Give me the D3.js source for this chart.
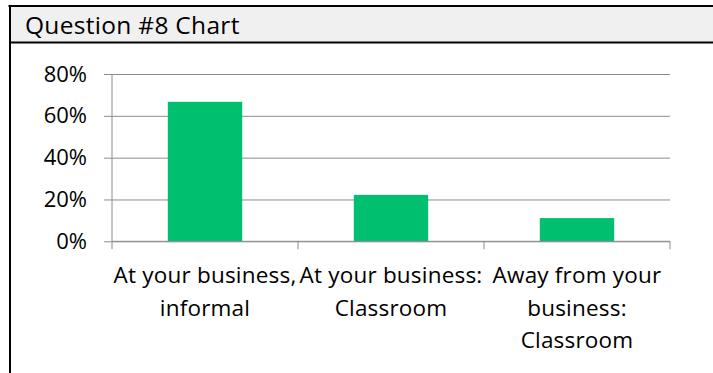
<!DOCTYPE html>
<html>
<head>
<meta charset="utf-8">
<script src="https://cdn.jsdelivr.net/npm/d3@7"></script>
<style>
  html, body { margin: 0; padding: 0; background: #fff; }
  svg { display: block; }
  text { font-family: "Open Sans", Lato, sans-serif; fill: #000; }
</style>
</head>
<body>
<svg id="chart" width="713" height="373"></svg>
<script>
// Survey results for question #8: where training takes place
const title = "Question #8 Chart";
const categories = ["informal", "classroom", "away"];
const categoryLabels = [
  ["At your business,", "informal"],
  ["At your business:", "Classroom"],
  ["Away from your", "business:", "Classroom"]
];
const shares = [0.667, 0.222, 0.111];
const yTicks = [0, 0.2, 0.4, 0.6, 0.8];

const svg = d3.select("#chart");
const W = 713, H = 373;

// Frame: header band with a title, heavy top/left/header rules
svg.append("rect").attr("x", 10).attr("y", 6).attr("width", W - 10).attr("height", 36)
  .attr("fill", "#f0f0f0");
svg.append("line").attr("x1", 8.5).attr("x2", W).attr("y1", 6).attr("y2", 6)
  .attr("stroke", "#000").attr("stroke-width", 2);
svg.append("line").attr("x1", 10).attr("x2", W).attr("y1", 42.5).attr("y2", 42.5)
  .attr("stroke", "#000").attr("stroke-width", 2);
svg.append("line").attr("x1", 10).attr("x2", 10).attr("y1", 5).attr("y2", H)
  .attr("stroke", "#000").attr("stroke-width", 2);
svg.append("text").attr("x", 25).attr("y", 34)
  .attr("font-size", 24.5).attr("letter-spacing", 0.3).text(title);

// Plot area
const x = d3.scaleBand().domain(categories).range([112, 670])
  .paddingInner(0.6).paddingOuter(0.3);
const y = d3.scaleLinear().domain([0, 0.8]).range([241.3, 74]);

const gridColor = "#8c8c8c";

// Horizontal gridlines and y tick labels
const yAxis = d3.axisLeft(y).tickValues(yTicks).tickFormat(d3.format(".0%"))
  .tickSize(-(670 - 112)).tickPadding(25);
const gy = svg.append("g").attr("transform", "translate(112,0)").call(yAxis);
gy.select(".domain").remove();
gy.selectAll(".tick line").attr("stroke", gridColor).attr("x1", -8);
gy.selectAll(".tick text").attr("font-size", 22).attr("font-family", "'Open Sans', sans-serif")
  .attr("fill", "#000");

// Vertical axis line
svg.append("line").attr("x1", 112).attr("x2", 112).attr("y1", y(0.8)).attr("y2", y(0))
  .attr("stroke", gridColor);

// Bars
svg.append("g").selectAll("rect").data(categories).join("rect")
  .attr("x", d => x(d))
  .attr("width", x.bandwidth())
  .attr("y", (d, i) => y(shares[i]))
  .attr("height", (d, i) => y(0) - y(shares[i]))
  .attr("fill", "#00c070");

// Category axis with ticks at band boundaries
const step = x.step();
const boundaries = d3.range(categories.length + 1).map(i => 112 + i * step);
svg.append("line").attr("x1", 112).attr("x2", 670).attr("y1", y(0)).attr("y2", y(0))
  .attr("stroke", gridColor);
svg.append("g").selectAll("line").data(boundaries).join("line")
  .attr("x1", d => d).attr("x2", d => d)
  .attr("y1", y(0)).attr("y2", y(0) + 8)
  .attr("stroke", gridColor);

// Multi-line category labels
const lab = svg.append("g").selectAll("text").data(categories).join("text")
  .attr("text-anchor", "middle")
  .attr("font-size", 22.5)
  .attr("letter-spacing", 0.2);
lab.each(function(d, i) {
  const t = d3.select(this);
  categoryLabels[i].forEach((line, j) => {
    t.append("tspan")
      .attr("x", x(d) + x.bandwidth() / 2)
      .attr("y", 283 + j * 32.5)
      .text(line);
  });
});
</script>
</body>
</html>
